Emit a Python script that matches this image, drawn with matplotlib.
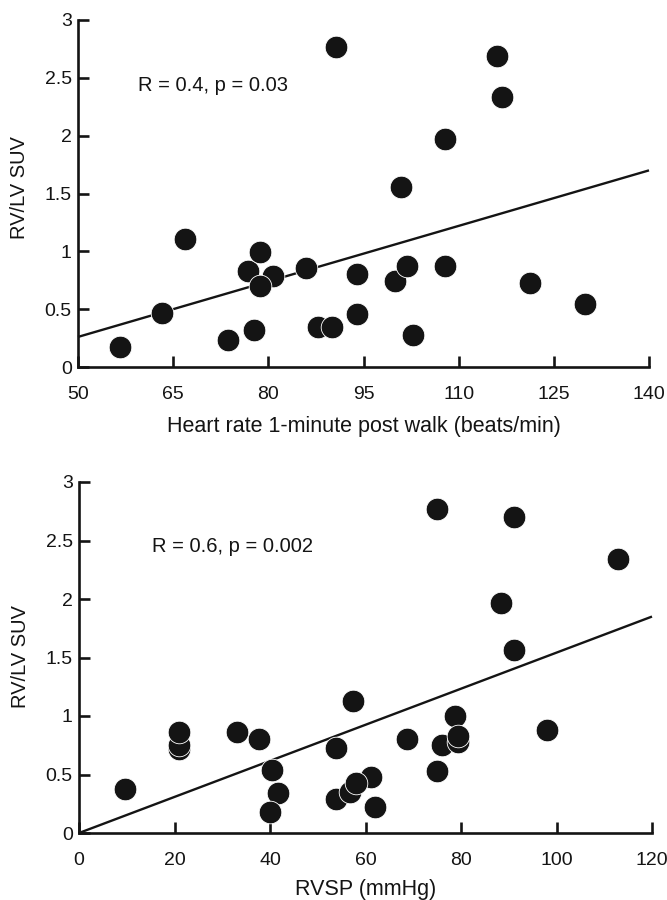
import matplotlib
matplotlib.use("Agg")
import matplotlib.pyplot as plt

plt.rcParams['font.family'] = ['Liberation Sans', 'DejaVu Sans']

# Panel A: heart rate 1-minute post walk vs RV/LV SUV
hr_x = [56.6, 63.3, 66.8, 73.6, 77.8, 76.8, 78.7, 80.7, 78.7, 86.0, 87.9, 90.0,
        90.7, 93.9, 93.9, 100.0, 100.9, 101.8, 102.8, 107.9, 107.9, 116.1, 116.9,
        121.3, 129.9]
hr_y = [0.175, 0.47, 1.105, 0.233, 0.32, 0.834, 0.998, 0.79, 0.70, 0.857, 0.348, 0.348,
        2.764, 0.805, 0.454, 0.742, 1.556, 0.877, 0.276, 1.970, 0.871, 2.692, 2.333,
        0.728, 0.541]
hr_fit_x = [50, 140]
hr_fit_y = [0.26, 1.70]
hr_ticks = [50, 65, 80, 95, 110, 125, 140]
hr_text = "R = 0.4, p = 0.03"
hr_xlabel = "Heart rate 1-minute post walk (beats/min)"

# Panel B: RVSP vs RV/LV SUV
rvsp_x = [9.6, 20.9, 20.9, 20.9, 33.0, 37.8, 40.5, 41.7, 40.0, 53.9, 53.9, 57.3,
          61.2, 56.8, 58.0, 61.9, 68.7, 75.0, 75.0, 76.1, 78.8, 79.3, 79.3, 88.4,
          91.0, 91.0, 98.1, 112.9]
rvsp_y = [0.38, 0.72, 0.75, 0.86, 0.86, 0.80, 0.54, 0.34, 0.18, 0.73, 0.29, 1.13,
          0.48, 0.35, 0.43, 0.22, 0.80, 0.53, 2.77, 0.75, 1.00, 0.78, 0.83, 1.97,
          2.70, 1.56, 0.88, 2.34]
rvsp_fit_x = [0, 120]
rvsp_fit_y = [0.0, 1.85]
rvsp_ticks = [0, 20, 40, 60, 80, 100, 120]
rvsp_text = "R = 0.6, p = 0.002"
rvsp_xlabel = "RVSP (mmHg)"

y_ticks = [0, 0.5, 1, 1.5, 2, 2.5, 3]
y_ticklabels = ["0", "0.5", "1", "1.5", "2", "2.5", "3"]
ylabel = "RV/LV SUV"

fig = plt.figure(figsize=(6.67, 9.0), dpi=100)

ink = '#141414'

def panel(rect, xs, ys, fx, fy, xticks, text, tx, ty, xlabel, xl_y, yl_y):
    ax = fig.add_axes(rect)
    ax.plot(fx, fy, color=ink, lw=1.7, solid_capstyle='butt', zorder=2, clip_on=False)
    ax.scatter(xs, ys, s=265, color=ink, edgecolors='white', linewidths=0.6,
               zorder=3, clip_on=False)
    ax.set_xlim(xticks[0], xticks[-1])
    ax.set_ylim(0, 3)
    ax.set_xticks(xticks)
    ax.set_xticklabels([str(t) for t in xticks])
    ax.set_yticks(y_ticks)
    ax.set_yticklabels(y_ticklabels)
    for s in ['top', 'right']:
        ax.spines[s].set_visible(False)
    for s in ['left', 'bottom']:
        ax.spines[s].set_linewidth(1.9)
        ax.spines[s].set_color(ink)
    ax.tick_params(axis='both', direction='in', length=8, width=1.9, colors=ink,
                   labelsize=14, labelcolor=ink)
    ax.tick_params(axis='x', pad=14)
    ax.tick_params(axis='y', pad=4.5)
    ax.text(tx, ty, text, fontsize=14.5, ha='left', va='baseline', color=ink)
    ax.set_xlabel(xlabel, fontsize=15.5, color=ink)
    ax.xaxis.set_label_coords(0.5, xl_y)
    ax.set_ylabel(ylabel, fontsize=14.5, color=ink)
    ax.yaxis.set_label_coords(-0.086, yl_y)
    return ax

panel([78/667, 1 - 367/900, 571/667, 347/900], hr_x, hr_y, hr_fit_x, hr_fit_y,
      hr_ticks, hr_text, 59.5, 2.39, hr_xlabel, -0.140, 0.517)
panel([79/667, 1 - 833/900, 573/667, 351/900], rvsp_x, rvsp_y, rvsp_fit_x, rvsp_fit_y,
      rvsp_ticks, rvsp_text, 15.3, 2.40, rvsp_xlabel, -0.131, 0.504)

fig.savefig("out.png", dpi=100, facecolor='white')
